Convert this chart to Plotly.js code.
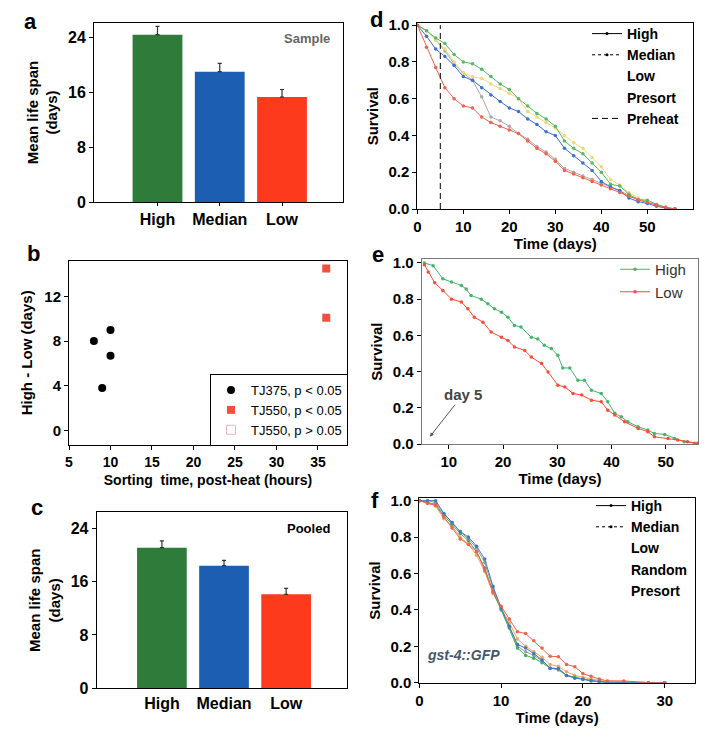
<!DOCTYPE html>
<html>
<head>
<meta charset="utf-8">
<script src="https://cdn.plot.ly/plotly-3.0.1.min.js"></script>
<style>
  html, body { margin: 0; padding: 0; background: #fff; }
  #plot { width: 710px; height: 737px; }
</style>
</head>
<body>
<div id="plot"></div>
<script>
// a: sample, c: pooled (mean life span, days)
const groups = ['High', 'Median', 'Low'];
const sampleMean = [24.4, 19.0, 15.3];
const sampleErr = [1.2, 1.2, 1.1];
const pooledMean = [21.1, 18.4, 14.1];
const pooledErr = [1.0, 0.8, 0.9];

// b: sorting time vs high-low difference
const tj375Time = [8, 10, 10, 9];
const tj375Diff = [8.0, 9.0, 6.7, 3.8];
const tj550SigTime = [36, 36];
const tj550SigDiff = [14.5, 10.1];
const tj550NsTime = [36];
const tj550NsDiff = [15.6];

// d: survival after heat, sorted populations
const dTime = [0, 2, 4, 6, 8, 10, 12, 14, 16, 18, 20, 22, 24, 26, 28, 30, 32, 34, 36, 38, 40, 42, 44, 46, 48, 50, 52, 54, 56];
const dHigh = [1.0, 0.97, 0.93, 0.90, 0.84, 0.80, 0.79, 0.76, 0.72, 0.68, 0.65, 0.60, 0.56, 0.52, 0.49, 0.45, 0.37, 0.33, 0.30, 0.25, 0.20, 0.135, 0.125, 0.08, 0.05, 0.048, 0.025, 0.01, 0.0];
const dPresort = [1.0, 0.97, 0.92, 0.87, 0.80, 0.74, 0.72, 0.71, 0.68, 0.655, 0.63, 0.60, 0.53, 0.50, 0.47, 0.44, 0.40, 0.36, 0.33, 0.28, 0.23, 0.16, 0.13, 0.09, 0.06, 0.04, 0.02, 0.01, 0.0];
const dMedian = [1.0, 0.94, 0.87, 0.83, 0.78, 0.72, 0.70, 0.66, 0.62, 0.585, 0.55, 0.53, 0.49, 0.46, 0.42, 0.40, 0.33, 0.29, 0.25, 0.21, 0.15, 0.12, 0.10, 0.06, 0.04, 0.03, 0.015, 0.005, 0.0];
const dOther = [1.0, 0.97, 0.92, 0.86, 0.79, 0.74, 0.70, 0.61, 0.50, 0.48, 0.45, 0.41, 0.38, 0.34, 0.31, 0.27, 0.22, 0.20, 0.18, 0.16, 0.14, 0.12, 0.10, 0.075, 0.055, 0.04, 0.022, 0.009, 0.0];
const dLow = [1.0, 0.88, 0.77, 0.66, 0.60, 0.56, 0.55, 0.50, 0.47, 0.45, 0.43, 0.41, 0.37, 0.33, 0.30, 0.26, 0.21, 0.19, 0.17, 0.15, 0.13, 0.11, 0.09, 0.07, 0.05, 0.035, 0.02, 0.008, 0.0];
const preheatDay = 5;

// e: high vs low, from day 5
const eHighTime = [5.5, 7.1, 8.9, 10.5, 12.3, 13.2, 14.1, 16, 17.2, 18.4, 19.7, 20.9, 22.1, 23.3, 25.2, 26.4, 27.6, 28.9, 30.1, 31, 32.3, 33.8, 35, 36.3, 38.1, 39.3, 40.6, 41.8, 43, 44.9, 46.7, 47.9, 49.8, 51.6, 53.4, 55.3, 56];
const eHigh = [1.0, 0.985, 0.912, 0.894, 0.876, 0.856, 0.82, 0.80, 0.774, 0.747, 0.728, 0.70, 0.655, 0.646, 0.59, 0.58, 0.545, 0.527, 0.49, 0.42, 0.42, 0.352, 0.352, 0.297, 0.279, 0.233, 0.17, 0.15, 0.123, 0.095, 0.077, 0.058, 0.053, 0.031, 0.013, 0.004, 0.0];
const eLowTime = [5.5, 6.2, 7.4, 8.9, 10.5, 12.3, 13.5, 14.7, 16.3, 17.8, 19.7, 20.9, 22.1, 24, 25.2, 27.1, 28.3, 30.1, 31.4, 32.9, 34.5, 36.3, 38.1, 39.3, 40.6, 42.4, 44.9, 46.7, 47.9, 50.4, 52.2, 54, 55.9];
const eLow = [0.99, 0.95, 0.89, 0.848, 0.80, 0.784, 0.747, 0.70, 0.673, 0.618, 0.59, 0.572, 0.536, 0.517, 0.48, 0.444, 0.398, 0.325, 0.315, 0.279, 0.27, 0.242, 0.233, 0.187, 0.16, 0.123, 0.086, 0.068, 0.04, 0.031, 0.022, 0.013, 0.004];

// f: gst-4::GFP sorted populations
const fTime = [0, 1, 2, 3, 4, 5, 6, 7, 8, 9, 10, 11, 12, 13, 14, 15, 16, 17, 18, 19, 20, 21, 22, 23, 25, 28, 30];
const fHigh = [1.0, 0.99, 0.98, 0.92, 0.87, 0.82, 0.78, 0.72, 0.63, 0.50, 0.40, 0.30, 0.19, 0.15, 0.135, 0.11, 0.08, 0.075, 0.04, 0.03, 0.02, 0.01, 0.005, 0, 0, 0, 0];
const fMedian = [1.0, 1.0, 1.0, 0.93, 0.88, 0.83, 0.80, 0.75, 0.68, 0.53, 0.41, 0.31, 0.21, 0.19, 0.16, 0.125, 0.08, 0.078, 0.04, 0.025, 0.018, 0.012, 0.006, 0.003, 0, 0, 0];
const fLow = [1.0, 0.985, 0.975, 0.91, 0.85, 0.79, 0.76, 0.72, 0.62, 0.50, 0.42, 0.35, 0.28, 0.27, 0.23, 0.19, 0.145, 0.143, 0.10, 0.088, 0.05, 0.035, 0.02, 0.01, 0.01, 0, 0];
const fRandom = [1.0, 0.99, 0.97, 0.90, 0.86, 0.80, 0.76, 0.70, 0.61, 0.49, 0.41, 0.33, 0.24, 0.20, 0.17, 0.14, 0.10, 0.09, 0.06, 0.04, 0.03, 0.02, 0.012, 0.008, 0.005, 0, 0];
const fPresort = [1.0, 1.0, 0.99, 0.93, 0.88, 0.83, 0.79, 0.74, 0.66, 0.52, 0.41, 0.31, 0.20, 0.17, 0.15, 0.12, 0.08, 0.07, 0.04, 0.03, 0.02, 0.01, 0.005, 0, 0, 0, 0];

const W = 710, H = 737;
const FONT = 'Liberation Sans, Arial, sans-serif';
const barColors = ['#2e7b3a', '#1c5fb2', '#fd3a1c'];

// pixel box -> paper domain
function dom(x0, x1, y0, y1) {
    return { x: [x0 / W, x1 / W], y: [1 - y1 / H, 1 - y0 / H] };
}
const pa = dom(94, 343, 23, 202);
const pb = dom(69, 347, 260.7, 445);
const pc = dom(96.7, 347, 512.3, 688.3);
const pd = dom(417.3, 693.3, 23.3, 209);
const pe = dom(421.7, 698.3, 259.3, 444);
const pf = dom(419.3, 695, 498.3, 682.7);

function curve(x, y, color, xa, ya, name, legend) {
    const t = {
        x: x, y: y, type: 'scatter', mode: 'lines+markers',
        line: { color: color, width: 1 },
        marker: { color: color, size: 3.5 },
        xaxis: xa, yaxis: ya, showlegend: false
    };
    if (legend) { t.name = name; t.legend = legend; t.showlegend = true; }
    return t;
}
// legend-only entry (black samples as in the print)
function legendOnly(name, legend, xa, ya, line, withDots) {
    return {
        x: [null], y: [null], type: 'scatter', mode: withDots ? 'lines+markers' : 'lines',
        line: line, marker: { color: '#000', size: 3 }, name: name,
        xaxis: xa, yaxis: ya, legend: legend
    };
}

const bk = { color: '#000', width: 1 };
const dotted = { color: '#000', width: 1, dash: 'dot' };
const blank = { color: 'rgba(0,0,0,0)', width: 1 };

const data = [
    // a
    {
        x: groups, y: sampleMean, type: 'bar', width: 0.8,
        marker: { color: barColors },
        error_y: { type: 'data', symmetric: false, array: sampleErr, arrayminus: [0, 0, 0], color: '#333', thickness: 1.2, width: 2 },
        xaxis: 'x', yaxis: 'y', showlegend: false
    },
    // b
    {
        x: tj375Time, y: tj375Diff, type: 'scatter', mode: 'markers', name: 'TJ375, p < 0.05',
        marker: { color: '#000', size: 8, symbol: 'circle' }, xaxis: 'x2', yaxis: 'y2', legend: 'legend'
    },
    {
        x: tj550SigTime, y: tj550SigDiff, type: 'scatter', mode: 'markers', name: 'TJ550, p < 0.05',
        marker: { color: '#f2503e', size: 8, symbol: 'square' }, xaxis: 'x2', yaxis: 'y2', legend: 'legend'
    },
    {
        x: tj550NsTime, y: tj550NsDiff, type: 'scatter', mode: 'markers', name: 'TJ550, p > 0.05',
        marker: { color: '#e6b8b8', size: 9, symbol: 'square-open' }, xaxis: 'x2', yaxis: 'y2', legend: 'legend'
    },
    // c
    {
        x: groups, y: pooledMean, type: 'bar', width: 0.8,
        marker: { color: barColors },
        error_y: { type: 'data', symmetric: false, array: pooledErr, arrayminus: [0, 0, 0], color: '#333', thickness: 1.2, width: 2 },
        xaxis: 'x3', yaxis: 'y3', showlegend: false
    },
    // d
    curve(dTime, dOther, '#a9a9a9', 'x4', 'y4'),
    curve(dTime, dPresort, '#f0d77a', 'x4', 'y4'),
    curve(dTime, dHigh, '#55b865', 'x4', 'y4'),
    curve(dTime, dMedian, '#3b6fd4', 'x4', 'y4'),
    curve(dTime, dLow, '#f0604c', 'x4', 'y4'),
    legendOnly('High', 'legend2', 'x4', 'y4', bk, true),
    legendOnly('Median', 'legend2', 'x4', 'y4', dotted, true),
    legendOnly('Low', 'legend2', 'x4', 'y4', blank, false),
    legendOnly('Presort', 'legend2', 'x4', 'y4', blank, false),
    {
        x: [preheatDay, preheatDay], y: [0, 1], type: 'scatter', mode: 'lines', name: 'Preheat',
        line: { color: '#000', width: 1, dash: '6px,4px' }, xaxis: 'x4', yaxis: 'y4', legend: 'legend2'
    },
    // e
    curve(eHighTime, eHigh, '#45b56a', 'x5', 'y5', 'High', 'legend3'),
    curve(eLowTime, eLow, '#ff4a36', 'x5', 'y5', 'Low', 'legend3'),
    // f
    curve(fTime, fPresort, '#9a9a9a', 'x6', 'y6'),
    curve(fTime, fRandom, '#f2a65a', 'x6', 'y6'),
    curve(fTime, fHigh, '#3fae5e', 'x6', 'y6'),
    curve(fTime, fMedian, '#3f78c8', 'x6', 'y6'),
    curve(fTime, fLow, '#f0604c', 'x6', 'y6'),
    legendOnly('High', 'legend4', 'x6', 'y6', bk, true),
    legendOnly('Median', 'legend4', 'x6', 'y6', dotted, true),
    legendOnly('Low', 'legend4', 'x6', 'y6', blank, false),
    legendOnly('Random', 'legend4', 'x6', 'y6', blank, false),
    legendOnly('Presort', 'legend4', 'x6', 'y6', blank, false)
];

function ax(domain, anchor, extra, size) {
    return Object.assign({
        domain: domain, anchor: anchor,
        showline: true, mirror: true, linecolor: '#000', linewidth: 1,
        ticks: 'outside', ticklen: 4, tickcolor: '#000',
        showgrid: false, zeroline: false, fixedrange: true,
        tickfont: { family: FONT, size: size || 14, color: '#000', weight: 'bold' },
        automargin: false
    }, extra);
}
function ttl(text, standoff, size) {
    return { text: text, standoff: standoff, font: { family: FONT, size: size || 15, color: '#000', weight: 'bold' } };
}
const survTicks = { tickvals: [0, 0.2, 0.4, 0.6, 0.8, 1.0], tickformat: '.1f' };

// paper-placed text, centred on a pixel position
function note(t, x, y, size, color, extra) {
    return Object.assign({
        text: t, x: x / W, y: 1 - y / H, xref: 'paper', yref: 'paper',
        xanchor: 'center', yanchor: 'middle', showarrow: false,
        font: { family: FONT, size: size, color: color, weight: 'bold' }
    }, extra || {});
}

const layout = {
    width: W, height: H,
    margin: { l: 0, r: 0, t: 0, b: 0 },
    paper_bgcolor: '#fff', plot_bgcolor: '#fff',
    font: { family: FONT },
    xaxis: ax(pa.x, 'y', { range: [-1.02, 2.98], ticklen: 3 }, 16),
    yaxis: ax(pa.y, 'x', { range: [0, 26.1], tickvals: [0, 8, 16, 24], title: ttl('Mean life span<br>(days)', 6, 15) }, 16),
    xaxis2: ax(pb.x, 'y2', { range: [5, 38.5], tickvals: [5, 10, 15, 20, 25, 30, 35], title: ttl('Sorting  time, post-heat (hours)', 6, 14) }),
    yaxis2: ax(pb.y, 'x2', { range: [-1.3, 15.2], tickvals: [0, 4, 8, 12], title: ttl('High - Low (days)', 8, 15) }, 15),
    xaxis3: ax(pc.x, 'y3', { range: [-1.05, 2.98], ticks: '' }, 16),
    yaxis3: ax(pc.y, 'x3', { range: [0, 26.4], tickvals: [0, 8, 16, 24], title: ttl('Mean life span<br>(days)', 6, 15) }, 16),
    xaxis4: ax(pd.x, 'y4', { range: [0, 60], tickvals: [0, 10, 20, 30, 40, 50], title: ttl('Time (days)', 4, 15) }, 15),
    yaxis4: ax(pd.y, 'x4', Object.assign({ range: [0, 1.01], title: ttl('Survival', 6, 15) }, survTicks), 15),
    xaxis5: ax(pe.x, 'y5', { range: [5, 56], tickvals: [10, 20, 30, 40, 50], linecolor: '#777', title: ttl('Time (days)', 4, 15) }, 15),
    yaxis5: ax(pe.y, 'x5', Object.assign({ range: [0, 1.02], linecolor: '#777', title: ttl('Survival', 6, 15) }, survTicks), 15),
    xaxis6: ax(pf.x, 'y6', { range: [0, 33.7], tickvals: [0, 10, 20, 30], title: ttl('Time (days)', 4, 15) }, 15),
    yaxis6: ax(pf.y, 'x6', Object.assign({ range: [0, 1.013], title: ttl('Survival', 6, 15) }, survTicks), 15),
    legend: {
        x: 348 / W, y: 1 - 446 / H, xanchor: 'right', yanchor: 'bottom',
        bgcolor: '#fff', bordercolor: '#000', borderwidth: 1,
        font: { family: FONT, size: 13, color: '#000' }, itemwidth: 30, tracegroupgap: 0
    },
    legend2: {
        x: 587 / W, y: 1 - 18 / H, xanchor: 'left', yanchor: 'top', bgcolor: 'rgba(0,0,0,0)',
        font: { family: FONT, size: 14, color: '#000', weight: 'bold' }, itemwidth: 30, tracegroupgap: 0
    },
    legend3: {
        x: 615 / W, y: 1 - 253 / H, xanchor: 'left', yanchor: 'top', bgcolor: 'rgba(0,0,0,0)',
        font: { family: FONT, size: 15, color: '#333' }, itemwidth: 30, tracegroupgap: 0
    },
    legend4: {
        x: 591 / W, y: 1 - 490 / H, xanchor: 'left', yanchor: 'top', bgcolor: 'rgba(0,0,0,0)',
        font: { family: FONT, size: 14, color: '#000', weight: 'bold' }, itemwidth: 30, tracegroupgap: 0
    },
    annotations: [
        note('a', 30, 22, 22, '#000'), note('b', 33, 253, 22, '#000'), note('c', 37, 507, 22, '#000'),
        note('d', 377, 20, 22, '#000'), note('e', 378, 255, 22, '#000'), note('f', 375, 500, 22, '#000'),
        note('Sample', 307, 39, 13, '#666'),
        note('Pooled', 308, 528, 13, '#000'),
        note('<i>gst-4::GFP</i>', 463, 655, 14, '#45566e'),
        { text: 'day 5', x: 6.5, y: 0.04, xref: 'x5', yref: 'y5', ax: 33, ay: -42,
          showarrow: true, arrowhead: 2, arrowsize: 0.8, arrowwidth: 1, arrowcolor: '#555',
          font: { family: FONT, size: 15, color: '#444', weight: 'bold' } }
    ]
};

Plotly.newPlot('plot', data, layout, { displayModeBar: false, staticPlot: true });
</script>
</body>
</html>
